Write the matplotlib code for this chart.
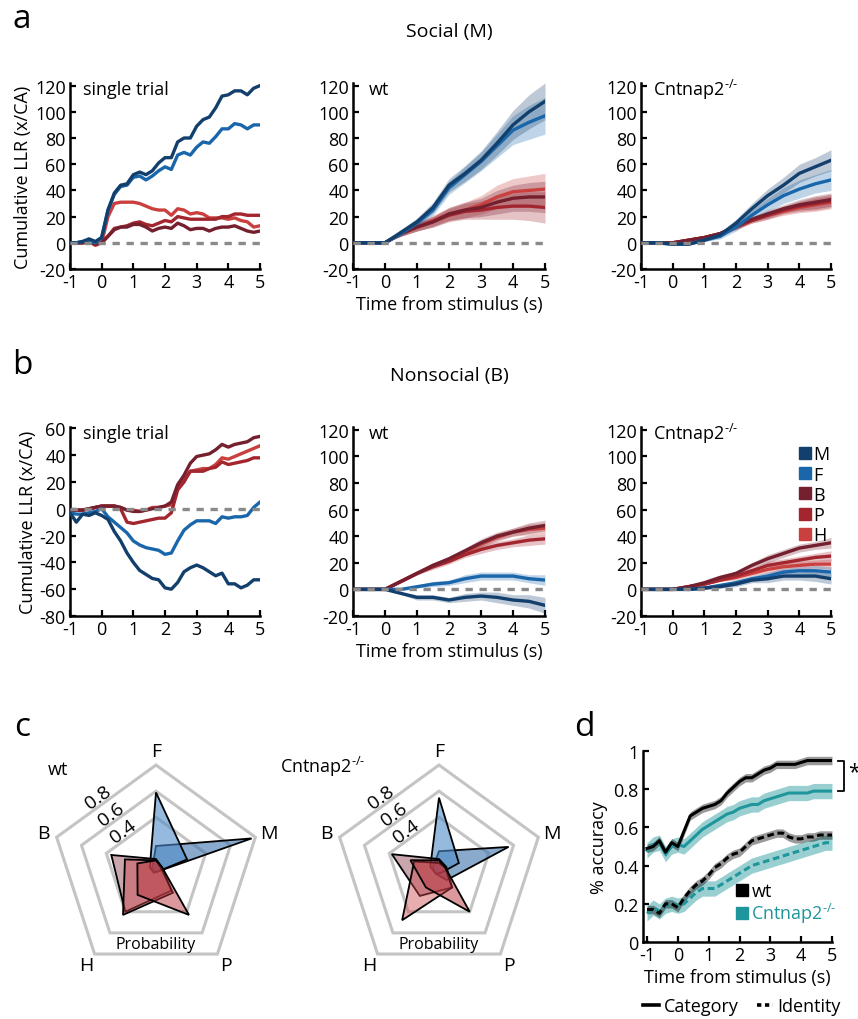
import numpy as np
import matplotlib
matplotlib.use('Agg')
import matplotlib.pyplot as plt
from matplotlib.lines import Line2D
from matplotlib.patches import Polygon
import matplotlib.transforms as mtrans

plt.rcParams['font.family'] = ['Open Sans', 'DejaVu Sans']
plt.rcParams['axes.unicode_minus'] = False
plt.rcParams['mathtext.fontset'] = 'custom'
plt.rcParams['mathtext.rm'] = 'Open Sans'
plt.rcParams['mathtext.it'] = 'Open Sans'
plt.rcParams['mathtext.bf'] = 'Open Sans'

# ---------------- data ----------------
classes = ['M', 'F', 'B', 'P', 'H']
t_single = np.round(np.linspace(-1, 5, 31), 1)
t_mean = np.round(np.linspace(-1, 5, 13), 1)

# panel a, single trial (social stimulus M)
a_st_M = [0, 0, 1, 3, 1, 4, 25, 38, 44, 45, 52, 54, 52, 55, 61, 65, 65, 77, 80, 80, 89, 94, 96, 103, 112, 113, 116, 116, 113, 118, 120]
a_st_F = [0, 0, 1, 2, 0, 4, 25, 37, 43, 44, 50, 51, 48, 51, 55, 58, 56, 67, 69, 67, 73, 77, 76, 81, 87, 87, 91, 90, 87, 90, 90]
a_st_B = [0, 0, 0, 1, -1, 0, 5, 10, 12, 12, 14, 14, 12, 9, 11, 12, 11, 15, 13, 10, 11, 11, 9, 11, 12, 12, 13, 11, 9, 8, 9]
a_st_P = [0, 0, 0, 1, -1, 0, 5, 11, 12, 13, 15, 16, 14, 13, 15, 17, 16, 20, 19, 18, 18, 18, 18, 18, 20, 20, 22, 22, 21, 21, 21]
a_st_H = [0, 0, 0, 1, -2, 0, 20, 30, 31, 31, 31, 30, 28, 26, 25, 25, 21, 26, 25, 22, 23, 22, 19, 19, 19, 18, 19, 17, 16, 12, 13]

# panel a, wt means / sem
a_wt_M = [0, 0, 0, 8, 16, 27, 44, 53, 63, 76, 90, 100, 108]
a_wt_F = [0, 0, 0, 7, 15, 25, 42, 52, 62, 74, 86, 92, 97]
a_wt_B = [0, 0, 0, 7, 12, 16, 22, 25, 27, 31, 34, 35, 35]
a_wt_P = [0, 0, 0, 7, 12, 16, 21, 24, 25, 27, 28, 28, 27]
a_wt_H = [0, 0, 0, 7, 12, 17, 22, 25, 29, 35, 39, 40, 41]
a_wt_sem_blue = [0, 0, 0, 2, 3, 4, 5, 6, 7, 9, 11, 13, 14]
a_wt_sem_red = [0, 0, 0, 2, 3, 4, 5, 6, 7, 9, 10, 11, 12]

# panel a, Cntnap2-/- means / sem
a_ko_M = [0, 0, -1, -1, 2, 6, 15, 26, 36, 44, 53, 58, 63]
a_ko_F = [0, 0, -1, -1, 2, 5, 12, 21, 29, 36, 41, 45, 48]
a_ko_B = [0, 0, 0, 2, 4, 7, 13, 18, 22, 26, 29, 31, 33]
a_ko_P = [0, 0, 0, 2, 4, 7, 12, 17, 21, 25, 28, 30, 32]
a_ko_H = [0, 0, 0, 2, 4, 7, 12, 17, 21, 24, 27, 29, 31]
a_ko_sem_blue = [0, 0, 0, 1, 1, 2, 3, 4, 5, 6, 7, 7, 8]
a_ko_sem_red = [0, 0, 0, 1, 1, 1, 2, 2, 3, 3, 4, 5, 5]

# panel b, single trial (nonsocial stimulus B)
b_st_M = [-3, -10, -4, -5, -3, -5, -8, -17, -24, -33, -40, -46, -49, -52, -53, -59, -60, -55, -47, -44, -42, -44, -47, -50, -48, -56, -56, -59, -57, -53, -53]
b_st_F = [-3, -4, -4, -3, -2, 0, -6, -10, -14, -18, -24, -27, -29, -30, -31, -34, -33, -24, -16, -12, -9, -9, -9, -11, -6, -7, -6, -6, -5, 1, 5]
b_st_B = [-2, -1, -1, 0, 1, 2, 2, 2, 1, -1, -2, -2, -1, 0, 1, 2, 5, 18, 25, 34, 39, 40, 41, 44, 48, 46, 48, 49, 50, 53, 54]
b_st_P = [-2, -1, -1, 0, 1, 2, 2, 2, 0, -10, -11, -10, -9, -8, -7, -7, -3, 14, 20, 28, 28, 28, 30, 31, 35, 33, 34, 35, 36, 38, 38]
b_st_H = [-2, -1, -1, 0, 1, 2, 2, 2, 1, -1, -1, -2, -1, 1, 1, 2, 3, 17, 22, 28, 29, 30, 30, 33, 38, 37, 39, 41, 43, 45, 47]

# panel b, wt
b_wt_M = [0, 0, 0, -3, -6, -6, -8, -6, -5, -6, -8, -9, -12]
b_wt_F = [0, 0, 0, 0, 2, 4, 5, 8, 10, 10, 10, 8, 7]
b_wt_B = [0, 0, 0, 6, 12, 18, 23, 29, 35, 40, 43, 46, 48]
b_wt_P = [0, 0, 0, 6, 12, 17, 21, 26, 30, 33, 35, 37, 38]
b_wt_H = [0, 0, 0, 6, 12, 18, 22, 28, 34, 39, 43, 45, 46]
b_wt_sem_M = [0, 0, 0, 1, 2, 2, 2, 3, 3, 4, 4, 5, 6]
b_wt_sem_F = [0, 0, 0, 1, 1, 2, 2, 3, 3, 3, 3, 3, 4]
b_wt_sem_red = [0, 0, 0, 1, 1, 2, 2, 2, 3, 3, 3, 4, 4]

# panel b, Cntnap2-/-
b_ko_M = [0, 0, 0, 0, 1, 2, 4, 7, 8, 10, 10, 10, 8]
b_ko_F = [0, 0, 0, 0, 1, 3, 5, 8, 10, 13, 14, 14, 13]
b_ko_B = [0, 0, 0, 2, 5, 9, 12, 18, 23, 27, 31, 33, 35]
b_ko_P = [0, 0, 0, 2, 4, 7, 10, 14, 18, 20, 22, 24, 25]
b_ko_H = [0, 0, 0, 2, 4, 7, 9, 12, 15, 17, 18, 19, 19]
b_ko_sem_blue = [0, 0, 0, 1, 1, 1, 2, 2, 3, 3, 3, 4, 4]
b_ko_sem_red = [0, 0, 0, 1, 1, 1, 2, 2, 3, 3, 3, 3, 4]

# panel c, radar (probabilities over axes F, M, P, H, B)
radar_axes = ['F', 'M', 'P', 'H', 'B']
rad_wt = {
    'M': [0.18, 0.77, 0.02, 0.02, 0.03],
    'F': [0.59, 0.25, 0.02, 0.03, 0.05],
    'B': [0.08, 0.05, 0.20, 0.40, 0.36],
    'P': [0.07, 0.05, 0.43, 0.24, 0.15],
    'H': [0.07, 0.04, 0.22, 0.43, 0.25],
}
rad_ko = {
    'M': [0.14, 0.56, 0.10, 0.04, 0.05],
    'F': [0.55, 0.16, 0.03, 0.04, 0.07],
    'B': [0.08, 0.06, 0.17, 0.25, 0.38],
    'P': [0.07, 0.05, 0.40, 0.17, 0.23],
    'H': [0.05, 0.05, 0.17, 0.48, 0.20],
}
ring_levels = [0.8, 0.6, 0.4]

# panel d, decoding accuracy
d_wt_cat = [0.49, 0.50, 0.53, 0.47, 0.52, 0.50, 0.58, 0.66, 0.68, 0.70, 0.71, 0.72, 0.74, 0.78, 0.81, 0.84, 0.86, 0.86, 0.88, 0.90, 0.91, 0.93, 0.93, 0.93, 0.93, 0.94, 0.95, 0.95, 0.95, 0.95, 0.95]
d_ko_cat = [0.48, 0.51, 0.52, 0.46, 0.50, 0.51, 0.50, 0.53, 0.56, 0.59, 0.61, 0.63, 0.65, 0.67, 0.68, 0.70, 0.71, 0.72, 0.72, 0.74, 0.75, 0.76, 0.77, 0.78, 0.78, 0.78, 0.78, 0.79, 0.79, 0.79, 0.79]
d_wt_id = [0.17, 0.17, 0.15, 0.20, 0.20, 0.18, 0.23, 0.27, 0.30, 0.32, 0.35, 0.39, 0.41, 0.44, 0.46, 0.47, 0.50, 0.53, 0.54, 0.55, 0.56, 0.57, 0.57, 0.55, 0.54, 0.54, 0.55, 0.55, 0.56, 0.56, 0.56]
d_ko_id = [0.15, 0.18, 0.16, 0.19, 0.20, 0.19, 0.20, 0.23, 0.26, 0.28, 0.28, 0.28, 0.30, 0.32, 0.34, 0.36, 0.38, 0.40, 0.41, 0.42, 0.43, 0.44, 0.45, 0.46, 0.47, 0.48, 0.49, 0.50, 0.51, 0.52, 0.52]
d_wt_sem = 0.022
d_ko_sem = 0.04

# ---------------- style ----------------
COL = {'M': '#123f6c', 'F': '#1a66ab', 'B': '#74202f', 'P': '#a3262f', 'H': '#c9403f'}
TEAL = '#1f969b'
KO = 'Cntnap2$^{\\text{-/-}}$'
FS = 13

W, H = 858, 1020
fig = plt.figure(figsize=(W / 100, H / 100), dpi=100)


def px_axes(x0, y0, x1, y1):
    return fig.add_axes([x0 / W, 1 - y1 / H, (x1 - x0) / W, (y1 - y0) / H])


def style(ax):
    for s in ['top', 'right']:
        ax.spines[s].set_visible(False)
    for s in ['left', 'bottom']:
        ax.spines[s].set_linewidth(1.8)
    ax.tick_params(direction='in', length=4, width=1.6, labelsize=FS, pad=3)


def zero_line(ax):
    ax.axhline(0, color='#8a8a8a', lw=2.4, ls=(0, (2.2, 2.0)), zorder=6)


def single_panel(ax, series, ylim, yticks):
    for c in ['H', 'P', 'B', 'F', 'M']:
        ax.plot(t_single, series[c], color=COL[c], lw=2.4, solid_joinstyle='round', zorder=3)
    zero_line(ax)
    ax.set_xlim(-1, 5)
    ax.set_ylim(*ylim)
    ax.set_yticks(yticks)
    ax.set_xticks(range(-1, 6))
    style(ax)


def mean_panel(ax, means, sems):
    for c in ['H', 'P', 'B', 'F', 'M']:
        m = np.array(means[c], float)
        s = np.array(sems[c], float)
        ax.fill_between(t_mean, m - s, m + s, color=COL[c], alpha=0.28, lw=0, zorder=2)
    for c in ['H', 'P', 'B', 'F', 'M']:
        ax.plot(t_mean, means[c], color=COL[c], lw=2.4, zorder=3)
    zero_line(ax)
    ax.set_xlim(-1, 5)
    ax.set_ylim(-20, 122)
    ax.set_yticks(range(-20, 121, 20))
    ax.set_xticks(range(-1, 6))
    style(ax)


col_x = [(70, 260), (353, 545), (641, 831)]
row_a = (84, 270)
row_b = (428, 617)

# ---- panel a ----
ax = px_axes(col_x[0][0], row_a[0], col_x[0][1], row_a[1])
single_panel(ax, dict(M=a_st_M, F=a_st_F, B=a_st_B, P=a_st_P, H=a_st_H), (-20, 122), range(-20, 121, 20))
ax.text(0.07, 0.97, 'single trial', transform=ax.transAxes, fontsize=FS, va='center')
ax.set_ylabel('Cumulative LLR (x/CA)', fontsize=FS, labelpad=2)

ax = px_axes(col_x[1][0], row_a[0], col_x[1][1], row_a[1])
mean_panel(ax, dict(M=a_wt_M, F=a_wt_F, B=a_wt_B, P=a_wt_P, H=a_wt_H),
           dict(M=a_wt_sem_blue, F=a_wt_sem_blue, B=a_wt_sem_red, P=a_wt_sem_red, H=a_wt_sem_red))
ax.text(0.08, 0.97, 'wt', transform=ax.transAxes, fontsize=FS, va='center')
ax.set_xlabel('Time from stimulus (s)', fontsize=FS, labelpad=3)
ax.set_title('Social (M)', fontsize=14, pad=34)

ax = px_axes(col_x[2][0], row_a[0], col_x[2][1], row_a[1])
mean_panel(ax, dict(M=a_ko_M, F=a_ko_F, B=a_ko_B, P=a_ko_P, H=a_ko_H),
           dict(M=a_ko_sem_blue, F=a_ko_sem_blue, B=a_ko_sem_red, P=a_ko_sem_red, H=a_ko_sem_red))
ax.text(0.065, 0.97, KO, transform=ax.transAxes, fontsize=FS, va='center')

# ---- panel b ----
ax = px_axes(col_x[0][0], row_b[0], col_x[0][1], row_b[1])
single_panel(ax, dict(M=b_st_M, F=b_st_F, B=b_st_B, P=b_st_P, H=b_st_H), (-80, 61), range(-80, 61, 20))
ax.text(0.07, 0.97, 'single trial', transform=ax.transAxes, fontsize=FS, va='center')
ax.set_ylabel('Cumulative LLR (x/CA)', fontsize=FS, labelpad=2)

ax = px_axes(col_x[1][0], row_b[0], col_x[1][1], row_b[1])
mean_panel(ax, dict(M=b_wt_M, F=b_wt_F, B=b_wt_B, P=b_wt_P, H=b_wt_H),
           dict(M=b_wt_sem_M, F=b_wt_sem_F, B=b_wt_sem_red, P=b_wt_sem_red, H=b_wt_sem_red))
ax.text(0.08, 0.97, 'wt', transform=ax.transAxes, fontsize=FS, va='center')
ax.set_xlabel('Time from stimulus (s)', fontsize=FS, labelpad=3)
ax.set_title('Nonsocial (B)', fontsize=14, pad=34)

ax = px_axes(col_x[2][0], row_b[0], col_x[2][1], row_b[1])
mean_panel(ax, dict(M=b_ko_M, F=b_ko_F, B=b_ko_B, P=b_ko_P, H=b_ko_H),
           dict(M=b_ko_sem_blue, F=b_ko_sem_blue, B=b_ko_sem_red, P=b_ko_sem_red, H=b_ko_sem_red))
ax.text(0.065, 0.97, KO, transform=ax.transAxes, fontsize=FS, va='center')
handles = [Line2D([], [], ls='', marker='s', markersize=9, color=COL[c]) for c in classes]
leg = ax.legend(handles, classes, loc='upper right', bbox_to_anchor=(1.04, 0.95), frameon=False,
                fontsize=FS, handletextpad=0.05, labelspacing=0.12, borderpad=0, handlelength=0.8)

# ---- panel c (radar) ----
R_PX = 130.6  # pixels per unit probability
angles = np.deg2rad([90, 18, -54, -126, 162])


def radar(cx, cy, vals, title, title_xy):
    half = 140
    ax = px_axes(cx - half, cy - half, cx + half, cy + half)
    ax.set_xlim(-half / R_PX, half / R_PX)
    ax.set_ylim(-half / R_PX, half / R_PX)
    ax.set_aspect('equal')
    ax.axis('off')
    for r in ring_levels:
        xs = r * np.cos(angles)
        ys = r * np.sin(angles)
        ax.add_patch(Polygon(np.c_[xs, ys], closed=True, fill=False, edgecolor='#c4c4c4', lw=2.2, zorder=1))
        mx = r * (np.cos(angles[4]) + np.cos(angles[0])) / 2 - 0.06
        my = r * (np.sin(angles[4]) + np.sin(angles[0])) / 2 + 0.03
        ax.text(mx, my, f'{r:.1f}', rotation=36, ha='center', va='center', fontsize=FS + 1, zorder=5)
    for name, a in zip(radar_axes, angles):
        rr = max(ring_levels) + 0.105
        ax.text(rr * np.cos(a), rr * np.sin(a), name, ha='center', va='center', fontsize=FS + 1)
    fills = {'M': ('#3b72ab', 0.6), 'F': ('#4f8cc9', 0.6), 'B': ('#8a3b4a', 0.45),
             'P': ('#b8353f', 0.5), 'H': ('#cc4a4f', 0.45)}
    for c in ['M', 'F', 'B', 'H', 'P']:
        v = np.array(vals[c])
        xs = v * np.cos(angles)
        ys = v * np.sin(angles)
        fc, al = fills[c]
        ax.add_patch(Polygon(np.c_[xs, ys], closed=True, facecolor=matplotlib.colors.to_rgba(fc, al),
                             edgecolor='black', lw=1.3, zorder=3))
    ax.text(0, -0.57, 'Probability', ha='center', va='center', fontsize=11.5)
    ax.text(title_xy[0], title_xy[1], title, ha='center', va='center', fontsize=FS)


radar(156, 870.5, rad_wt, 'wt', (-0.75, 0.77))
radar(439, 870.5, rad_ko, KO, (-0.89, 0.79))

# ---- panel d ----
ax = px_axes(643, 752, 832, 943)
for cat, idn, sem, col in [(d_ko_cat, d_ko_id, d_ko_sem, TEAL), (d_wt_cat, d_wt_id, d_wt_sem, 'black')]:
    for series, ls in [(cat, '-'), (idn, (0, (2.2, 1.2)))]:
        s = np.array(series)
        ax.fill_between(t_single, s - sem, s + sem, color=col, alpha=0.45 if col == TEAL else 0.4, lw=0, zorder=2)
        ax.plot(t_single, s, color=col, lw=2.2, ls=ls, zorder=3)
ax.set_xlim(-1.13, 5)
ax.set_ylim(0, 1.0)
ax.set_xticks(range(-1, 6))
ax.set_yticks([0, 0.2, 0.4, 0.6, 0.8, 1])
ax.set_yticklabels(['0', '0.2', '0.4', '0.6', '0.8', '1'])
style(ax)
ax.set_xlabel('Time from stimulus (s)', fontsize=FS, labelpad=3)
ax.set_ylabel('% accuracy', fontsize=FS, labelpad=4)
hd = [Line2D([], [], ls='', marker='s', markersize=9, color='black'),
      Line2D([], [], ls='', marker='s', markersize=9, color=TEAL)]
lg = ax.legend(hd, ['wt', KO], loc='lower left', bbox_to_anchor=(0.44, 0.04), frameon=False,
               fontsize=FS, handletextpad=0.1, labelspacing=0.05, borderpad=0, handlelength=0.8)
lg.get_texts()[1].set_color(TEAL)
# significance bracket
tr = mtrans.blended_transform_factory(ax.transAxes, ax.transData)
y_top, y_bot = d_wt_cat[-1], d_ko_cat[-1]
ax.plot([1.03, 1.065, 1.065, 1.03], [y_top, y_top, y_bot, y_bot], color='black', lw=1.3,
        transform=tr, clip_on=False)
ax.text(1.085, (y_top + y_bot) / 2 + 0.02, '*', transform=tr, fontsize=15, va='center', ha='left')

fig.legend([Line2D([], [], color='black', lw=2.6), Line2D([], [], color='black', lw=2.6, ls=(0, (1.2, 1.0)))],
           ['Category', 'Identity'], loc='center', bbox_to_anchor=(742 / W, 1 - 1007 / H), ncol=2,
           frameon=False, fontsize=FS, handlelength=0.9, handletextpad=0.25, columnspacing=1.0)

# panel letters
for letter, x, y in [('a', 22, 20), ('b', 22, 366), ('c', 22, 728), ('d', 584, 728)]:
    fig.text(x / W, 1 - y / H, letter, fontsize=24, va='center', ha='center')

fig.savefig('out.png', dpi=100)
